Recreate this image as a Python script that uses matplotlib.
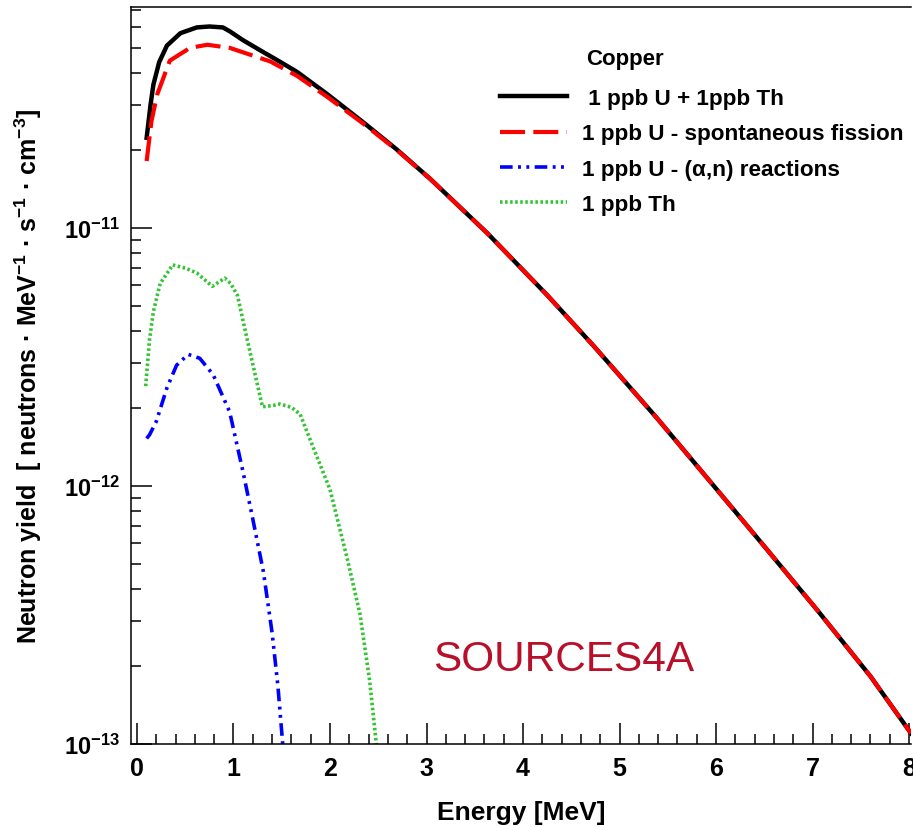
import math
import matplotlib
matplotlib.use('Agg')
from matplotlib import pyplot as plt
from matplotlib import ticker
from matplotlib.lines import Line2D

# total spectrum, 1 ppb U + 1 ppb Th
e_total = [0.10, 0.14, 0.17, 0.23, 0.31, 0.45, 0.62, 0.75, 0.89, 0.96, 1.10,
           1.31, 1.48, 1.66, 1.97, 2.34, 2.69, 3.04, 3.63, 4.25, 4.73, 5.39,
           5.94, 6.49, 7.05, 7.60, 8.02]
y_total = [2.24e-11, 3.0e-11, 3.6e-11, 4.4e-11, 5.1e-11, 5.7e-11, 6.0e-11,
           6.05e-11, 6.0e-11, 5.8e-11, 5.35e-11, 4.81e-11, 4.42e-11, 4.03e-11,
           3.31e-11, 2.58e-11, 2.02e-11, 1.55e-11, 9.56e-12, 5.5e-12, 3.5e-12,
           1.83e-12, 1.04e-12, 5.9e-13, 3.3e-13, 1.83e-13, 1.1e-13]

# U spontaneous fission
e_fis = [0.10, 0.15, 0.21, 0.34, 0.55, 0.73, 0.96, 1.38, 1.66, 1.97, 2.34,
         2.69, 3.04, 3.63, 4.25, 4.73, 5.39, 5.94, 6.49, 7.05, 7.60, 8.02]
y_fis = [1.82e-11, 2.6e-11, 3.3e-11, 4.46e-11, 5.0e-11, 5.14e-11, 5.0e-11,
         4.43e-11, 3.89e-11, 3.23e-11, 2.55e-11, 2.01e-11, 1.55e-11, 9.55e-12,
         5.5e-12, 3.5e-12, 1.83e-12, 1.04e-12, 5.9e-13, 3.3e-13, 1.83e-13,
         1.1e-13]

# U (alpha,n)
e_an = [0.10, 0.13, 0.20, 0.31, 0.41, 0.53, 0.65, 0.79, 0.96, 1.10, 1.20,
        1.31, 1.40, 1.46, 1.51, 1.55]
y_an = [1.53e-12, 1.58e-12, 1.78e-12, 2.4e-12, 2.94e-12, 3.24e-12, 3.13e-12,
        2.7e-12, 1.94e-12, 1.13e-12, 7.45e-13, 4.65e-13, 2.7e-13, 1.68e-13,
        1.0e-13, 8.0e-14]

# Th
e_th = [0.09, 0.13, 0.17, 0.24, 0.37, 0.50, 0.62, 0.78, 0.91, 0.97, 1.04,
        1.14, 1.24, 1.30, 1.40, 1.48, 1.60, 1.69, 1.82, 2.00, 2.18, 2.31,
        2.41, 2.48, 2.52]
y_th = [2.44e-12, 3.7e-12, 4.75e-12, 6.1e-12, 7.2e-12, 7.0e-12, 6.7e-12,
        5.95e-12, 6.4e-12, 6.1e-12, 5.5e-12, 3.73e-12, 2.55e-12, 2.03e-12,
        2.05e-12, 2.08e-12, 2.02e-12, 1.9e-12, 1.43e-12, 9.7e-13, 5.2e-13,
        3.2e-13, 1.77e-13, 1.0e-13, 8.5e-14]

labels = [' 1 ppb U + 1ppb Th', '1 ppb U - spontaneous fission',
          '1 ppb U - (\u03b1,n) reactions', '1 ppb Th']
y_major = [1e-13, 1e-12, 1e-11]

plt.rcParams['font.family'] = ['Liberation Sans', 'DejaVu Sans']
plt.rcParams['font.weight'] = 'bold'
plt.rcParams['mathtext.fontset'] = 'custom'
plt.rcParams['mathtext.rm'] = 'Liberation Sans'
plt.rcParams['mathtext.bf'] = 'Liberation Sans:bold'
plt.rcParams['mathtext.it'] = 'Liberation Sans:italic'
plt.rcParams['mathtext.default'] = 'bf'

fig = plt.figure(figsize=(9.13, 8.28), dpi=100)
ax = fig.add_axes([131/913, 1 - 745/828, 780/913, 737/828])

green = '#33c433'
ax.plot(e_total, y_total, color='black', lw=3.2, solid_joinstyle='round')
ax.plot(e_fis, y_fis, color='#ff0000', lw=3.0, dashes=(6, 2))
ax.plot(e_an, y_an, color='#0000ff', lw=2.6, dashes=(3.5, 1.5, 0.8, 1.5, 0.8, 1.5))
ax.plot(e_th, y_th, color=green, lw=2.6, dashes=(0.7, 0.7))

ax.set_yscale('log')
ax.set_xlim(-0.062, 8.02)
ax.set_ylim(1e-13, 7.2e-11)

ax.xaxis.set_major_locator(ticker.MultipleLocator(1))
ax.xaxis.set_minor_locator(ticker.MultipleLocator(0.2))
ax.yaxis.set_major_locator(ticker.FixedLocator(y_major))
ax.yaxis.set_minor_locator(ticker.LogLocator(base=10, subs=range(2, 10), numticks=10))
ax.yaxis.set_minor_formatter(ticker.NullFormatter())
ax.yaxis.set_major_formatter(ticker.FuncFormatter(
    lambda v, p: r'$10^{%d}$' % round(math.log10(v))))

ax.tick_params(which='both', direction='in', top=False, right=False, width=1.1)
ax.tick_params(which='major', length=15, labelsize=17, pad=8)
ax.tick_params(which='minor', length=7.5)
ax.tick_params(axis='x', which='major', labelsize=18, pad=9)
for lab in ax.get_xticklabels() + ax.get_yticklabels():
    lab.set_fontweight('bold')

ax.spines['right'].set_visible(False)
for s in ['left', 'bottom', 'top']:
    ax.spines[s].set_linewidth(1.1)

ax.set_xlabel('Energy [MeV]', fontsize=19, fontweight='bold', labelpad=14)
ax.set_ylabel('Neutron yield  [ neutrons \u00b7 MeV$^{-1}$ \u00b7 s$^{-1}$ \u00b7 cm$^{-3}$]',
              fontsize=18, fontweight='bold', labelpad=14)

handles = [Line2D([], [], color='black', lw=3.2),
           Line2D([], [], color='#ff0000', lw=3.0, dashes=(6, 2)),
           Line2D([], [], color='#0000ff', lw=2.6, dashes=(3.5, 1.5, 0.8, 1.5, 0.8, 1.5)),
           Line2D([], [], color=green, lw=2.6, dashes=(0.7, 0.7))]
leg = ax.legend(handles, labels, loc='upper left', bbox_to_anchor=(0.473, 0.890),
                frameon=False, borderpad=0, borderaxespad=0,
                handlelength=3.0, handletextpad=0.66, labelspacing=0.64,
                prop={'weight': 'bold', 'size': 16.2})
ax.text((586 - 131) / 780, (745 - 60) / 737, 'Copper', transform=ax.transAxes,
        fontsize=16, fontweight='bold', va='center', ha='left')

ax.text((433 - 131) / 780, (745 - 660) / 737, 'SOURCES4A', transform=ax.transAxes,
        fontsize=30.5, fontweight='normal', color='#b8102a', va='center', ha='left')

fig.savefig('out.png', dpi=100)
